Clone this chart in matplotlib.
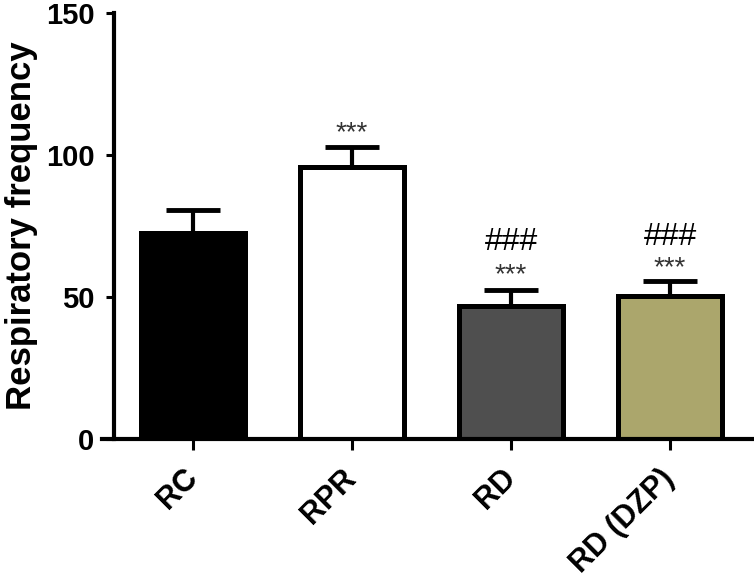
import matplotlib.pyplot as plt
import numpy as np

plt.rcParams['font.family'] = ['Liberation Sans', 'DejaVu Sans']

# Data
groups = ['RC', 'RPR', 'RD', 'RD (DZP)']
means = [72.7, 95.6, 47.0, 50.5]
errors = [7.9, 7.2, 5.5, 5.1]
colors = ['#000000', '#ffffff', '#4f4f4f', '#aba66c']

# significance marks: (group index, text, y)
marks = [
    (1, '***', 107.5),
    (2, '***', 57.5),
    (2, '###', 69.5),
    (3, '***', 60.3),
    (3, '###', 71.0),
]

fig = plt.figure(figsize=(7.54, 5.8), dpi=100)
ax = fig.add_axes([0.1353, 0.2431, 0.8647, 0.7345])

x = np.arange(len(groups))
ax.bar(x, means, width=0.65, color=colors, edgecolor='black', linewidth=3.6, zorder=2)
ax.errorbar(x, means, yerr=[np.zeros(len(means)), errors], fmt='none',
            ecolor='black', elinewidth=3, capsize=19.5, capthick=3.5, zorder=1)

for i, txt, y in marks:
    if txt == '***':
        ax.text(x[i], y, txt, ha='center', va='center', fontsize=20, color='#333333')
    else:
        ax.text(x[i], y, txt, ha='center', va='center', fontsize=23, color='black')

ax.set_xlim(-0.572, 3.528)
ax.set_ylim(0, 150)
ax.set_yticks([0, 50, 100, 150])
ax.set_xticks(x)
ax.set_xticklabels(groups)

ax.spines['top'].set_visible(False)
ax.spines['right'].set_visible(False)
ax.spines['left'].set_position(('data', -0.497))
ax.spines['left'].set_linewidth(3)
ax.spines['bottom'].set_linewidth(3)

ax.tick_params(axis='y', length=6, width=2.2, pad=8, labelsize=21)
ax.tick_params(axis='x', length=8, width=2.2, pad=17, labelsize=22)
for lab in ax.get_yticklabels():
    lab.set_fontweight('bold')
for lab in ax.get_xticklabels():
    lab.set_fontweight('bold')
    lab.set_rotation(45)
    lab.set_ha('right')
    lab.set_va('center')
    lab.set_rotation_mode('anchor')

ax.set_ylabel('Respiratory frequency', fontsize=25, fontweight='bold', labelpad=6)

fig.savefig('out.png', dpi=100)
